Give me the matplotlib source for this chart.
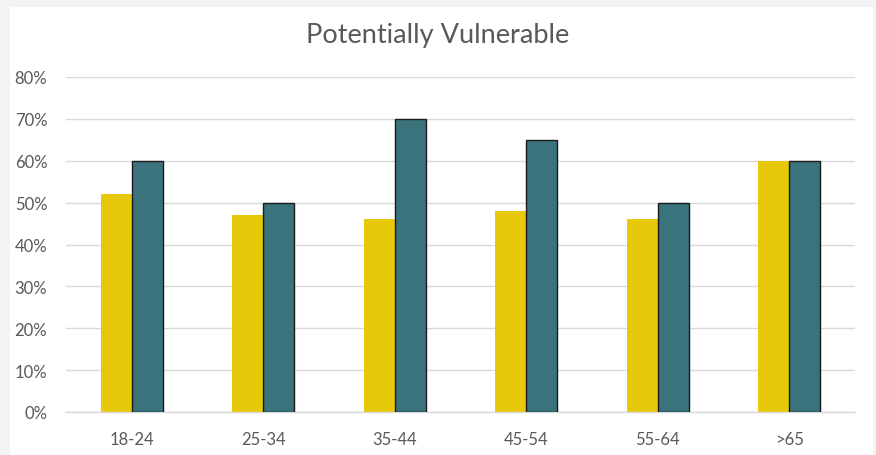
import matplotlib.pyplot as plt
import matplotlib.patches as mpatches
import numpy as np

age_groups = ['18-24', '25-34', '35-44', '45-54', '55-64', '>65']
series_a = [52, 47, 46, 48, 46, 60]
series_b = [60, 50, 70, 65, 50, 60]

plt.rcParams['font.family'] = ['Lato', 'DejaVu Sans']

fig = plt.figure(figsize=(8.76, 4.56), dpi=100, facecolor='#f2f3f5')
# white chart panel behind the axes
fig.patches.append(mpatches.Rectangle((10 / 876, 0), 863 / 876, 448 / 456,
                                      transform=fig.transFigure,
                                      facecolor='white', edgecolor='none', zorder=-5))

ax = fig.add_axes([66 / 876, 43 / 456, 789 / 876, 335 / 456])
ax.set_facecolor('white')

ind = np.arange(len(age_groups))
width = 0.235
ax.bar(ind - width / 2, np.array(series_a) / 100, width, color='#e8c90a', zorder=2)
ax.bar(ind + width / 2, np.array(series_b) / 100, width, color='#3b737c',
       edgecolor='#1a1a1a', linewidth=1.0, zorder=3)

ax.set_xlim(-0.5, len(age_groups) - 0.5)
ax.set_ylim(0, 0.8)
ax.set_yticks(np.arange(0, 0.81, 0.1))
ax.set_yticklabels([f'{int(round(v * 100))}%' for v in np.arange(0, 0.81, 0.1)])
ax.set_xticks(ind)
ax.set_xticklabels(age_groups)
ax.yaxis.grid(True, color='#d9d9d9', linewidth=1.0, zorder=0)
ax.set_axisbelow(True)
for side in ['top', 'right', 'left']:
    ax.spines[side].set_visible(False)
ax.spines['bottom'].set_color('#d9d9d9')
ax.spines['bottom'].set_linewidth(1.0)
ax.tick_params(axis='both', length=0, colors='#595959', labelsize=12)
ax.tick_params(axis='y', pad=13.5)
ax.tick_params(axis='x', pad=14)

fig.text(438 / 876, 1 - 36 / 456, 'Potentially Vulnerable', ha='center', va='center',
         fontsize=19.5, color='#595959')

fig.savefig('out.png', dpi=100, facecolor=fig.get_facecolor())
